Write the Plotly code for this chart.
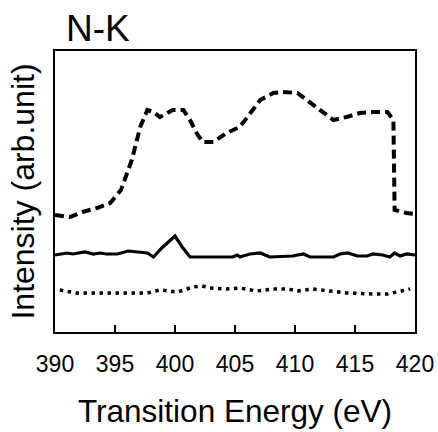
import plotly.graph_objects as go

# Dashed curve (upper)
dash_x = [390, 391.25, 392.3, 393.5, 394.6, 395.5, 396.4, 397.1, 397.7, 398.2, 398.75, 399.8,
          400.7, 401.25, 401.8, 402.3, 403.2, 404.3, 405.4, 406.25, 407.1, 408.2, 409, 410.2,
          411, 412.1, 413.2, 414.3, 415.4, 416.5, 417.7, 418.2, 418.3, 419.3, 420]
dash_y = [117, 115, 120, 124, 129, 142, 172, 205, 222, 220, 215, 222,
          222, 212, 199, 190, 190, 199, 205, 219, 232, 239, 240, 239,
          232, 222, 212, 215, 219, 220, 220, 212, 122, 119, 118]

# Solid curve (middle)
solid_x = [390, 391, 391.5, 392.5, 393.2, 393.75, 394.3, 395.2, 396.1, 397.1, 397.7, 398.2,
           398.9, 400, 400.6, 401.25, 404.8, 405.2, 405.4, 406.25, 407.1, 407.9, 409.8, 410.7,
           411.25, 413.2, 413.75, 414.4, 415.2, 416, 416.5, 417.3, 417.9, 418.3, 418.75, 419.3,
           419.8, 420]
solid_y = [77, 79, 78, 80, 78, 79, 78, 78, 81, 80, 79, 75,
           84, 96, 85, 75, 75, 77, 75, 78, 79, 75, 76, 78,
           75, 75, 78, 79, 76, 76, 78, 77, 75, 79, 76, 78,
           77, 77]

# Dotted curve (lower)
dot_x = [390.4, 391.8, 394.8, 397.7, 398.75, 400.2, 401, 401.5, 402.25, 402.9, 404.3, 405.4,
         406.8, 408.2, 409.4, 410.2, 411.5, 412.9, 414.3, 416.5, 417.7, 418.5, 419.6]
dot_y = [42, 39, 39, 39, 42, 40, 43, 45, 46, 44, 43, 44,
         41, 43, 43, 41, 43, 41, 39, 38, 38, 40, 43]

x_ticks = [390, 395, 400, 405, 410, 415, 420]

fig = go.Figure()
fig.add_trace(go.Scatter(x=dash_x, y=dash_y, mode="lines",
                         line=dict(color="black", width=4, dash="9px,5px"),
                         showlegend=False))
fig.add_trace(go.Scatter(x=solid_x, y=solid_y, mode="lines",
                         line=dict(color="black", width=3.2),
                         showlegend=False))
fig.add_trace(go.Scatter(x=dot_x, y=dot_y, mode="lines",
                         line=dict(color="black", width=3.5, dash="3.5px,4.5px"),
                         showlegend=False))

fig.update_layout(
    width=438, height=432,
    margin=dict(l=55, r=23, t=51, b=100, autoexpand=False),
    paper_bgcolor="white", plot_bgcolor="white",
    font=dict(family="Liberation Sans, Arial, sans-serif", color="black"),
    title=dict(text="N-K", font=dict(size=37), xref="container", yref="container",
               x=66/438, xanchor="left", y=1-28/432, yanchor="middle", automargin=False),
    xaxis=dict(range=[390, 420], tickvals=x_ticks, ticks="inside", ticklen=7,
               tickwidth=2, tickcolor="black", showline=True, linecolor="black",
               linewidth=2, mirror=True, showgrid=False, zeroline=False,
               tickfont=dict(size=23), ticklabelstandoff=10, automargin=False,
               title=dict(text="Transition Energy (eV)", font=dict(size=31.5), standoff=24)),
    yaxis=dict(range=[0, 281], showticklabels=False, ticks="", showline=True,
               linecolor="black", linewidth=2, mirror=True, showgrid=False,
               zeroline=False, automargin=False,
               title=dict(text="Intensity (arb.unit)", font=dict(size=32), standoff=9)),
)

fig.write_html("out.html", config={"displayModeBar": False},
               post_script="document.body.style.margin='0';document.body.style.overflow='hidden';")
